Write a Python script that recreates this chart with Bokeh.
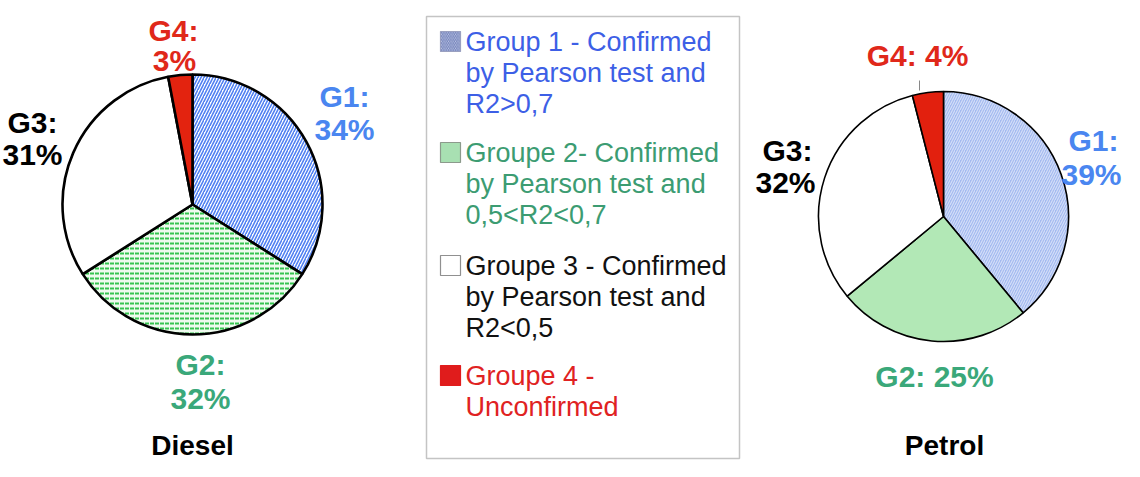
import math
from bokeh.plotting import figure
from bokeh.models import Range1d
from bokeh.core.properties import value
from bokeh.embed import file_html
from bokeh.resources import INLINE

# ---- data ----
groups = ["G1", "G2", "G3", "G4"]
diesel_pct = [34, 32, 31, 3]
petrol_pct = [39, 25, 32, 4]
chart_titles = ["Diesel", "Petrol"]
legend_lines = [
    ["Group 1 - Confirmed", "by Pearson test and", "R2>0,7"],
    ["Groupe 2- Confirmed", "by Pearson test and", "0,5<R2<0,7"],
    ["Groupe 3 - Confirmed", "by Pearson test and", "R2<0,5"],
    ["Groupe 4 -", "Unconfirmed"],
]

# ---- page helpers (page pixel coords, y down) ----
W, H = 1140, 477
M = 8
def Y(y):
    return H - y

p = figure(width=W - 2 * M, height=H - 2 * M, output_backend="svg", toolbar_location=None,
           x_range=Range1d(M, W - M), y_range=Range1d(Y(H - M), Y(M)),
           min_border=0)
p.axis.visible = False
p.grid.visible = False
p.outline_line_color = None
p.background_fill_color = "white"

FONT = value("Liberation Sans")

label_colors = ["#4a86f0", "#3aa87a", "#000000", "#e0281a"]

diesel_styles = [
    dict(fill_color="white", hatch_pattern="/", hatch_color="#4f80f2", hatch_scale=6, hatch_weight=1.6),
    dict(fill_color="#eefaee", hatch_pattern='"', hatch_color="#36c450", hatch_scale=5, hatch_weight=2),
    dict(fill_color="white"),
    dict(fill_color="#e3230f"),
]
petrol_styles = [
    dict(fill_color="#a4baf0", hatch_pattern="/", hatch_color="#d6e0f8", hatch_scale=5, hatch_weight=1.1),
    dict(fill_color="#b2e8b6"),
    dict(fill_color="white"),
    dict(fill_color="#e2200e"),
]

def draw_pie(cx, cy, r, pcts, styles, lw):
    cum = 0
    for pct, st in zip(pcts, styles):
        a0 = math.radians(90 - cum * 3.6)
        cum += pct
        a1 = math.radians(90 - cum * 3.6)
        p.wedge(x=[cx], y=[Y(cy)], radius=r, start_angle=a0, end_angle=a1,
                direction="clock",
                line_color="black", line_width=lw, **st)

draw_pie(200, 212, 130, diesel_pct, diesel_styles, 2.6)
draw_pie(951, 224, 125, petrol_pct, petrol_styles, 1.6)

# small leader tick near petrol G4
p.segment(x0=[927], y0=[Y(88)], x1=[927], y1=[Y(98)], line_color="#888888", line_width=1)

def label(x, y, txt, color, size="30px", bold=True):
    p.text(x=[x], y=[Y(y)], text=[txt], text_color=color, text_font=FONT,
           text_font_size=size, text_font_style="bold" if bold else "normal",
           text_align="center", text_baseline="middle")

# Diesel labels
d_pos = [((352, 104), (352, 137)), ((208, 372), (208, 406)),
         ((40, 130), (40, 162)), ((181, 38), (182, 68))]
for g, v, c, (a, b) in zip(groups, diesel_pct, label_colors, d_pos):
    label(a[0], a[1], g + ":", c)
    label(b[0], b[1], f"{v}%", c)

# Petrol labels
label(1101, 148, groups[0] + ":", label_colors[0])
label(1099, 182, f"{petrol_pct[0]}%", label_colors[0])
label(942, 384, f"{groups[1]}: {petrol_pct[1]}%", label_colors[1])
label(795, 158, groups[2] + ":", label_colors[2])
label(793, 190, f"{petrol_pct[2]}%", label_colors[2])
label(925, 63, f"{groups[3]}: {petrol_pct[3]}%", label_colors[3])

label(200, 453, chart_titles[0], "black", size="28px")
label(952, 453, chart_titles[1], "black", size="28px")

# ---- legend box ----
p.quad(left=[434], right=[747], top=[Y(24)], bottom=[Y(466)],
       fill_color="white", line_color="#c4c4c4", line_width=1.5)

legend_text_colors = ["#3d5fe6", "#3c9c72", "#111111", "#e02222"]
marker_styles = [
    dict(fill_color="#c4cbe8", hatch_pattern="\\", hatch_color="#6f7fb8", hatch_scale=3.5, hatch_weight=1, line_color="#9aa0c0"),
    dict(fill_color="#a8e0b2", line_color="#8c9a8c"),
    dict(fill_color="white", line_color="#909090"),
    dict(fill_color="#e01c1c", line_color="#e01c1c"),
]
group_tops = [49, 160, 273, 383]
line_h = 31
for gi, (lines, col, ms) in enumerate(zip(legend_lines, legend_text_colors, marker_styles)):
    y0 = group_tops[gi]
    p.rect(x=[458], y=[Y(y0)], width=20, height=20, line_width=1.2, **ms)
    for li, t in enumerate(lines):
        p.text(x=[473], y=[Y(y0 + li * line_h)], text=[t], text_color=col,
               text_font=FONT, text_font_size="27px", text_align="left",
               text_baseline="middle")

open("out.html", "w").write(file_html(p, INLINE))
